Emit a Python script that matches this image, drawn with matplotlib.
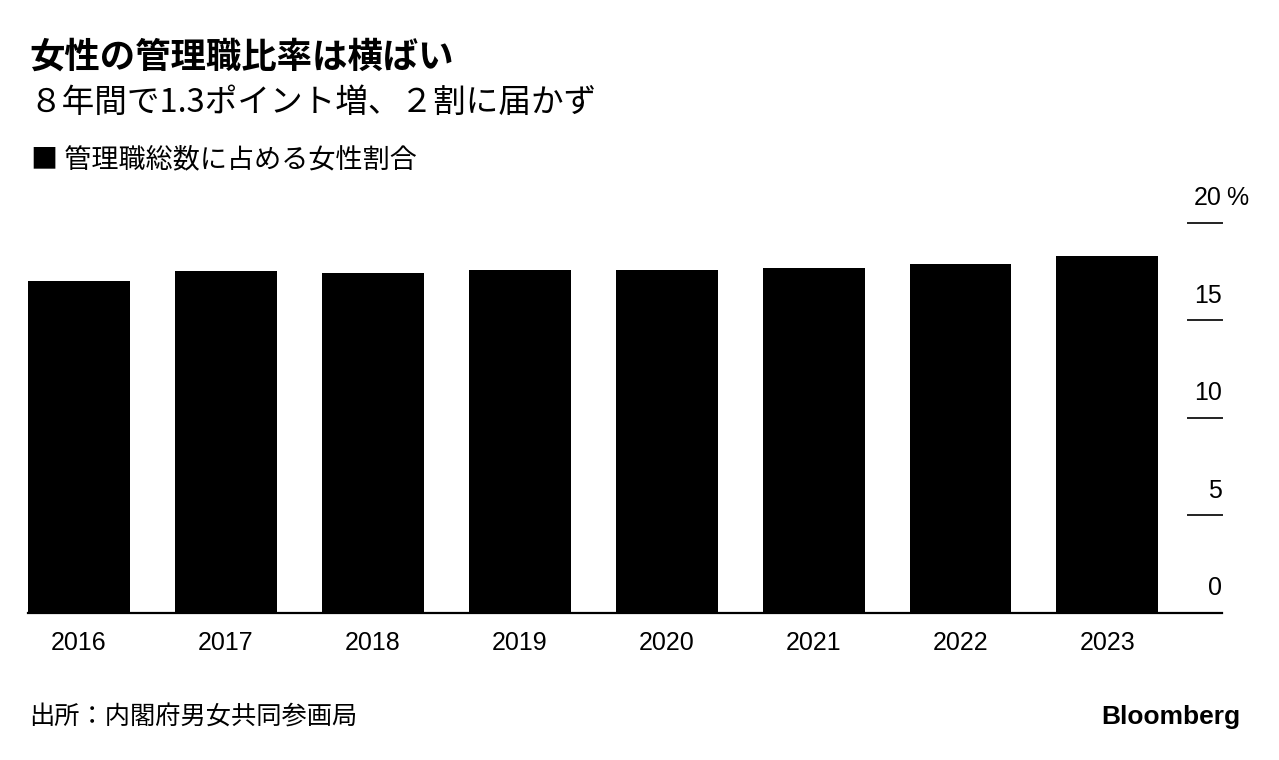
import matplotlib
matplotlib.use("Agg")
import matplotlib.pyplot as plt
import matplotlib.transforms as mtransforms

# データ
years = ["2016", "2017", "2018", "2019", "2020", "2021", "2022", "2023"]
ratio = [17.0, 17.5, 17.4, 17.6, 17.6, 17.7, 17.9, 18.3]
yticks = [0, 5, 10, 15, 20]
ytick_labels = ["0", "5", "10", "15", "20"]

jp = ["Noto Sans CJK JP", "DejaVu Sans"]
num = ["Liberation Sans", "Noto Sans CJK JP"]

fig = plt.figure(figsize=(12.79, 7.6), dpi=100)
ax = fig.add_axes([28 / 1279, 147.3 / 760, (1222 - 28) / 1279, (537.3 - 147.3) / 760])

x = list(range(len(years)))
ax.bar(x, ratio, width=0.694, color="#000000", zorder=2)
ax.set_xlim(-0.347, 7.78)
ax.set_ylim(0, 20)

for s in ["top", "right", "left"]:
    ax.spines[s].set_visible(False)
ax.spines["bottom"].set_linewidth(1.6)
ax.spines["bottom"].set_color("#000000")
ax.set_yticks([])
ax.set_xticks(x)
ax.set_xticklabels(years, fontsize=18, family=num)
ax.tick_params(axis="x", length=0, pad=13)

# 右側の目盛り（横線と数値）
trans = mtransforms.blended_transform_factory(ax.transAxes, ax.transData)
x0 = (1188 - 28) / (1222 - 28)
for v in yticks[1:]:
    ax.plot([x0, 1.0], [v, v], transform=trans, color="#222222", lw=1.4, clip_on=False)
for v, lab in zip(yticks, ytick_labels):
    ax.annotate(lab, xy=(1.0, v), xycoords=trans, xytext=(0, 9), textcoords="offset points",
                ha="right", va="bottom", fontsize=18, family=num, annotation_clip=False)
ax.annotate("%", xy=(1.0, 20), xycoords=trans, xytext=(3, 9), textcoords="offset points",
            ha="left", va="bottom", fontsize=18, family=num, annotation_clip=False)

# タイトルなど
fig.text(29 / 1279, 1 - 57 / 760, "女性の管理職比率は横ばい", fontsize=25.5, fontweight="bold",
         family=jp, va="center", ha="left")
fig.text(29 / 1279, 1 - 103 / 760, "８年間で1.3ポイント増、２割に届かず", fontsize=23.5,
         family=jp, va="center", ha="left")
fig.text(31 / 1279, 1 - 160 / 760, "■ 管理職総数に占める女性割合", fontsize=19.5,
         family=jp, va="center", ha="left")
fig.text(29 / 1279, 1 - 718 / 760, "出所：内閣府男女共同参画局", fontsize=18.2,
         family=jp, va="center", ha="left")
fig.text(1240 / 1279, 1 - 717 / 760, "Bloomberg", fontsize=19, fontweight="bold",
         family=num, va="center", ha="right")

fig.savefig("out.png", dpi=100, facecolor="white")
